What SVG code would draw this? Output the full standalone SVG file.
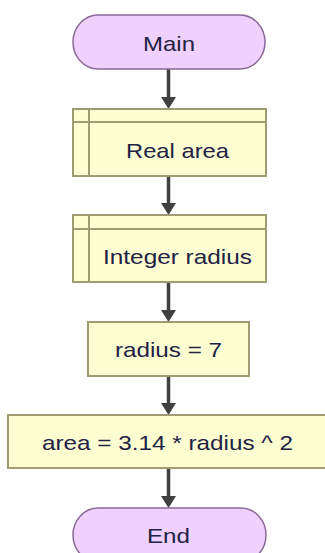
<svg xmlns="http://www.w3.org/2000/svg" width="325" height="553" viewBox="0 0 325 553">
<style>
.term{fill:#f0d0fc;stroke:#8a6a98;stroke-width:1.5}
.proc{fill:#fdfdd2;stroke:#a09c72;stroke-width:2}
.div{fill:none;stroke:#a09c72;stroke-width:2}
.lbl{font-family:"Liberation Sans",Arial,sans-serif;font-size:21px;fill:#222244;text-anchor:middle}
.wire{stroke:#404040;stroke-width:3.5;fill:none}
.head{fill:#404040}
</style>
<rect width="325" height="553" fill="#ffffff"/>
<g id="connectors">
<line class="wire" x1="168.5" y1="69" x2="168.5" y2="99"/>
<polygon class="head" points="161,97 176,97 168.5,109"/>
<line class="wire" x1="168.5" y1="176" x2="168.5" y2="205"/>
<polygon class="head" points="161,203 176,203 168.5,215"/>
<line class="wire" x1="168.5" y1="282" x2="168.5" y2="312"/>
<polygon class="head" points="161,310 176,310 168.5,322"/>
<line class="wire" x1="168.5" y1="376" x2="168.5" y2="405"/>
<polygon class="head" points="161,403 176,403 168.5,415"/>
<line class="wire" x1="168.5" y1="468" x2="168.5" y2="498"/>
<polygon class="head" points="161,496 176,496 168.5,508"/>
</g>
<g id="main">
<rect class="term" x="73" y="15" width="192" height="54" rx="25" ry="27"/>
<text class="lbl" x="169" y="50.5" textLength="52" lengthAdjust="spacingAndGlyphs">Main</text>
</g>
<g id="real-area">
<rect class="proc" x="73" y="109" width="193" height="67"/>
<path class="div" d="M89 109V176M73 122H266"/>
<text class="lbl" x="177.5" y="158" textLength="103" lengthAdjust="spacingAndGlyphs">Real area</text>
</g>
<g id="integer-radius">
<rect class="proc" x="73" y="215" width="193" height="67"/>
<path class="div" d="M89 215V282M73 229H266"/>
<text class="lbl" x="177.5" y="263.5" textLength="149" lengthAdjust="spacingAndGlyphs">Integer radius</text>
</g>
<g id="radius-assign">
<rect class="proc" x="88" y="322" width="161" height="54"/>
<text class="lbl" x="168.5" y="357" textLength="107" lengthAdjust="spacingAndGlyphs">radius = 7</text>
</g>
<g id="area-assign">
<rect class="proc" x="8" y="415" width="322" height="53"/>
<text class="lbl" x="167.5" y="449.5" textLength="251" lengthAdjust="spacingAndGlyphs">area = 3.14 * radius ^ 2</text>
</g>
<g id="end">
<rect class="term" x="73" y="508" width="193" height="54" rx="25" ry="27"/>
<text class="lbl" x="168.5" y="543" textLength="43" lengthAdjust="spacingAndGlyphs">End</text>
</g>
</svg>
